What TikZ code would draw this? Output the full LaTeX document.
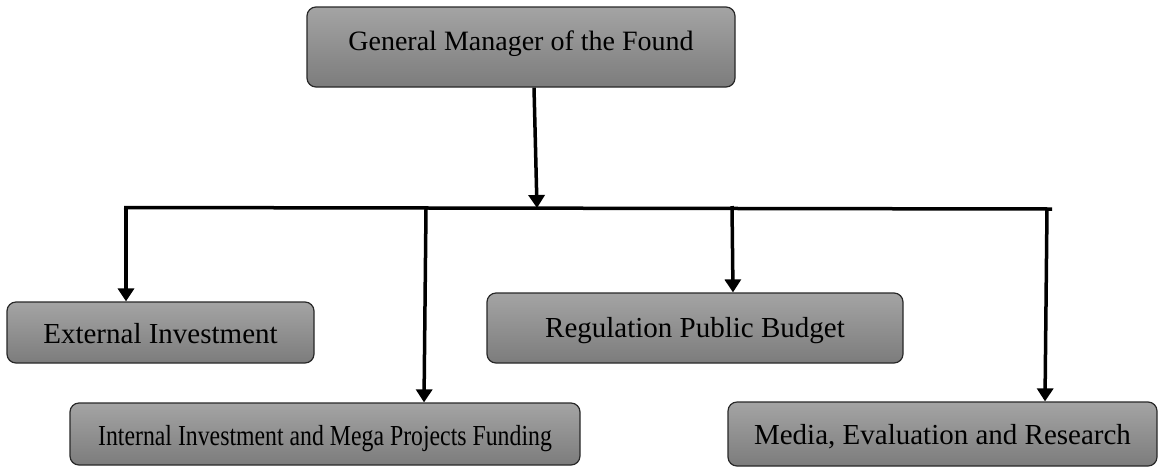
\documentclass[tikz,border=0pt]{standalone}
\usepackage{fontspec}
\setmainfont{Liberation Serif}
\usetikzlibrary{arrows.meta}
\definecolor{boxtop}{RGB}{164,164,164}
\definecolor{boxbot}{RGB}{124,124,124}
\definecolor{boxline}{RGB}{40,40,40}
\tikzset{
  orgbox/.style={draw=boxline, line width=1.2pt, rounded corners=9pt,
    top color=boxtop, bottom color=boxbot, inner sep=0pt,
    font=\fontsize{29}{34}\selectfont, text=black},
  arr/.style={line width=3.5pt, -{Triangle[length=13pt,width=16pt]}},
  bar/.style={line width=3.5pt},
}
\begin{document}
\begin{tikzpicture}[x=1pt,y=-1pt]
\useasboundingbox (0,0) rectangle (1164,467);
% boxes
\node[orgbox, font=\fontsize{28}{34}\selectfont, minimum width=428pt, text height=43pt, text depth=37pt] (top) at (521,47) {General Manager of the Found};
\node[orgbox, minimum width=307pt, text height=41pt, text depth=20pt] (ext) at (160.5,332.5) {External Investment};
\node[orgbox, minimum width=416pt, text height=44pt, text depth=26pt] (reg) at (695,328) {Regulation Public Budget};
\node[orgbox, minimum width=510pt, text height=42pt, text depth=20pt] (int) at (325,434) {\scalebox{0.82}[1]{Internal Investment and Mega Projects Funding}};
\node[orgbox, minimum width=429pt, text height=42pt, text depth=22pt] (med) at (942.5,434) {Media, Evaluation and Research};
% bar
\coordinate (barL) at (124,207.5);
\coordinate (barR) at (1052,209);
\coordinate (j0) at (537,208);
\coordinate (j1) at (126,209);
\coordinate (j2) at (426,209);
\coordinate (j3) at (732,206);
\coordinate (j4) at (1047,209);
\draw[bar] (barL) -- (barR);
% connectors
\draw[arr] ([xshift=13pt]top.south) -- (j0);
\draw[arr] (j1) -- ([xshift=-34.5pt]ext.north);
\draw[arr] (j2) -- ([xshift=99pt]int.north);
\draw[arr] (j3) -- ([xshift=38pt]reg.north);
\draw[arr] (j4) -- ([xshift=102.5pt]med.north);
\end{tikzpicture}
\end{document}
